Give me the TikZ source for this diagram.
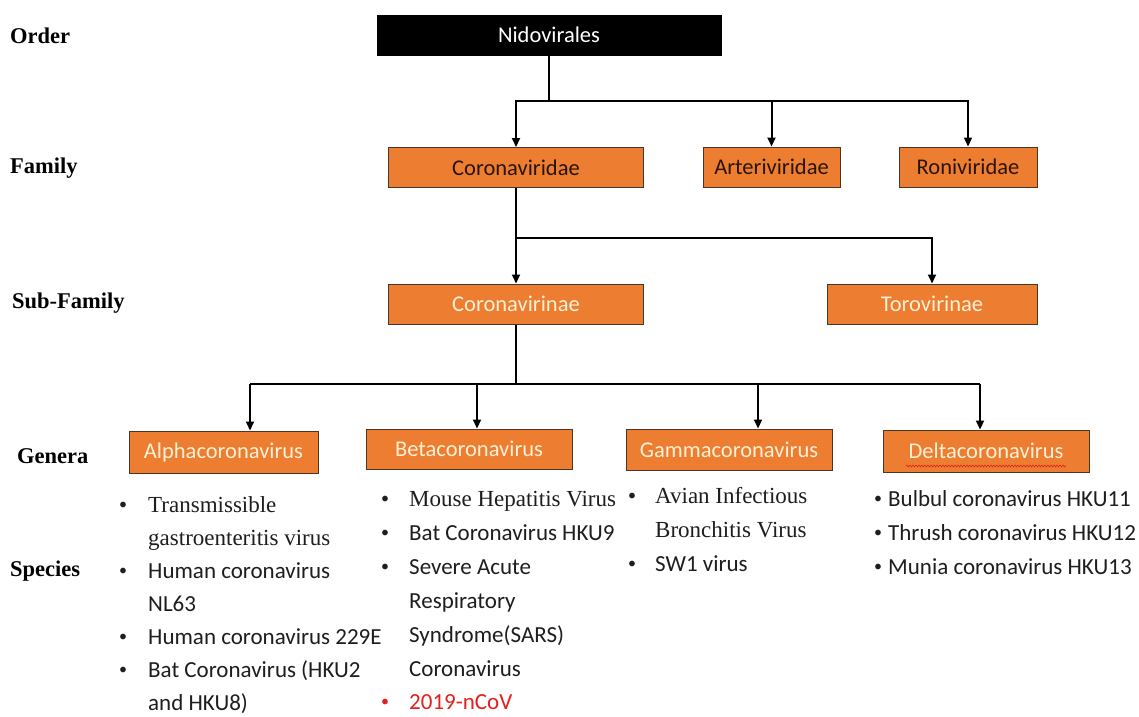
\documentclass[tikz,border=0pt]{standalone}
\usepackage{fontspec}
\setmainfont{Liberation Serif}
\newfontfamily\calfont{Carlito}
\usetikzlibrary{arrows.meta,decorations.pathmorphing}
\definecolor{boxorange}{HTML}{ED7D31}
\definecolor{boxborder}{HTML}{4A3526}
\definecolor{famtext}{HTML}{2A1408}
\definecolor{lighttext}{HTML}{FFF1D6}
\definecolor{sptext}{HTML}{1E1E1E}
\definecolor{ncovred}{HTML}{E3201B}
\tikzset{
  box/.style={draw=boxborder, fill=boxorange, line width=1pt, inner sep=0pt,
    font=\calfont\fontsize{22.5}{27}\selectfont},
  famtxt/.style={text=famtext},
  lighttxt/.style={text=lighttext},
  topbox/.style={draw=black, fill=black, text=white, inner sep=0pt,
    font=\calfont\fontsize{22.5}{27}\selectfont},
  lbl/.style={anchor=base west, inner sep=0pt, text=black,
    font=\bfseries\fontsize{22.5}{27}\selectfont},
  spc/.style={anchor=base west, inner sep=0pt, text=sptext,
    font=\calfont\fontsize{23}{27}\selectfont},
  spt/.style={anchor=base west, inner sep=0pt, text=sptext,
    font=\fontsize{23}{27}\selectfont},
  bul/.style={anchor=base west, inner sep=0pt, text=sptext, yshift=2.5pt,
    font=\calfont\fontsize{16}{20}\selectfont},
  conn/.style={line width=2pt, draw=black},
  arr/.style={conn, -{Triangle[width=8pt,length=9pt]}},
}
\begin{document}
\begin{tikzpicture}[x=1pt,y=-1pt]
\useasboundingbox[fill=white] (0,0) rectangle (1139,716);

% level labels
\node[lbl] (lorder) at (10,43) {Order};
\node[lbl] (lfamily) at (10,173) {Family};
\node[lbl] (lsub) at (12,308) {Sub-Family};
\node[lbl] (lgenera) at (17,463) {Genera};
\node[lbl] (lspecies) at (10,576) {Species};

% boxes
\node[topbox, minimum width=344pt, minimum height=40pt] (nido) at (549,35) {Nidovirales};
\node[box, famtxt, minimum width=255pt, minimum height=40pt] (corvid) at (516,167.5) {Coronaviridae};
\node[box, famtxt, minimum width=137pt, minimum height=40pt] (arter) at (771.5,167) {Arteriviridae};
\node[box, famtxt, minimum width=138pt, minimum height=40pt] (roni) at (968,167) {Roniviridae};
\node[box, lighttxt, minimum width=255pt, minimum height=40pt] (corvir) at (516,304) {Coronavirinae};
\node[box, lighttxt, minimum width=210pt, minimum height=40pt] (toro) at (932,304) {Torovirinae};
\node[box, lighttxt, minimum width=189pt, minimum height=42pt] (alpha) at (223.5,452) {Alphacoronavirus};
\node[box, lighttxt, minimum width=206pt, minimum height=40pt] (beta) at (469,449) {Betacoronavirus};
\node[box, lighttxt, minimum width=206pt, minimum height=41pt] (gamma) at (729,449.5) {Gammacoronavirus};
\node[box, lighttxt, minimum width=206pt, minimum height=42pt] (delta) at (986,451) {Deltacoronavirus};

% spell-check squiggle under Deltacoronavirus
\coordinate (sqa) at (906,466);
\coordinate (sqb) at (1066,466);
\draw[ncovred, line width=0.6pt, decorate, decoration={snake, amplitude=0.9pt, segment length=3pt}] (sqa) -- (sqb);

% connectors: order -> family
\coordinate (j1) at (549,101);
\draw[conn] (nido.south) -- (j1);
\draw[arr] (j1) -| (corvid.north);
\draw[arr] (j1) -| (arter.north);
\draw[arr] (j1) -| (roni.north);

% family -> subfamily
\coordinate (j2) at (516,238);
\draw[conn] (corvid.south) -- (j2);
\draw[arr] (j2) -- (corvir.north);
\draw[arr] (j2) -| (toro.north);

% subfamily -> genera
\coordinate (j3) at (516,384);
\coordinate (ta) at (250,384);
\coordinate (tb) at (477,384);
\coordinate (tg) at (758,384);
\coordinate (td) at (980,384);
\draw[conn] (corvir.south) -- (j3);
\draw[conn] (ta) -- (td);
\draw[arr] (ta) -- (ta |- alpha.north);
\draw[arr] (tb) -- (tb |- beta.north);
\draw[arr] (tg) -- (tg |- gamma.north);
\draw[arr] (td) -- (td |- delta.north);

% Alphacoronavirus species
\node[bul] (ab1) at (119,512) {•};
\node[spt] (a1) at (148,512) {Transmissible};
\node[spt] (a2) at (148,545) {gastroenteritis virus};
\node[bul] (ab2) at (119,578) {•};
\node[spc] (a3) at (148,578) {Human coronavirus};
\node[spc] (a4) at (148,611) {NL63};
\node[bul] (ab3) at (119,644) {•};
\node[spc] (a5) at (148,644) {Human coronavirus 229E};
\node[bul] (ab4) at (119,677) {•};
\node[spc] (a6) at (148,677) {Bat Coronavirus (HKU2};
\node[spc] (a7) at (148,710) {and HKU8)};

% Betacoronavirus species
\node[bul] (bb1) at (381,506) {•};
\node[spt] (b1) at (409,506) {Mouse Hepatitis Virus};
\node[bul] (bb2) at (381,540) {•};
\node[spc] (b2) at (409,540) {Bat Coronavirus HKU9};
\node[bul] (bb3) at (381,574) {•};
\node[spc] (b3) at (409,574) {Severe Acute};
\node[spc] (b4) at (409,608) {Respiratory};
\node[spc] (b5) at (409,642) {Syndrome(SARS)};
\node[spc] (b6) at (409,676) {Coronavirus};
\node[bul, text=ncovred] (bb4) at (381,709) {•};
\node[spc, text=ncovred] (b7) at (409,709) {2019-nCoV};

% Gammacoronavirus species
\node[bul] (gb1) at (628,503) {•};
\node[spt] (g1) at (655,503) {Avian Infectious};
\node[spt] (g2) at (655,537) {Bronchitis Virus};
\node[bul] (gb2) at (628,571) {•};
\node[spc] (g3) at (655,571) {SW1 virus};

% Deltacoronavirus species
\node[bul] (db1) at (874,506) {•};
\node[spc] (d1) at (888,506) {Bulbul coronavirus HKU11};
\node[bul] (db2) at (874,540) {•};
\node[spc] (d2) at (888,540) {Thrush coronavirus HKU12};
\node[bul] (db3) at (874,574) {•};
\node[spc] (d3) at (888,574) {Munia coronavirus HKU13};
\end{tikzpicture}
\end{document}
